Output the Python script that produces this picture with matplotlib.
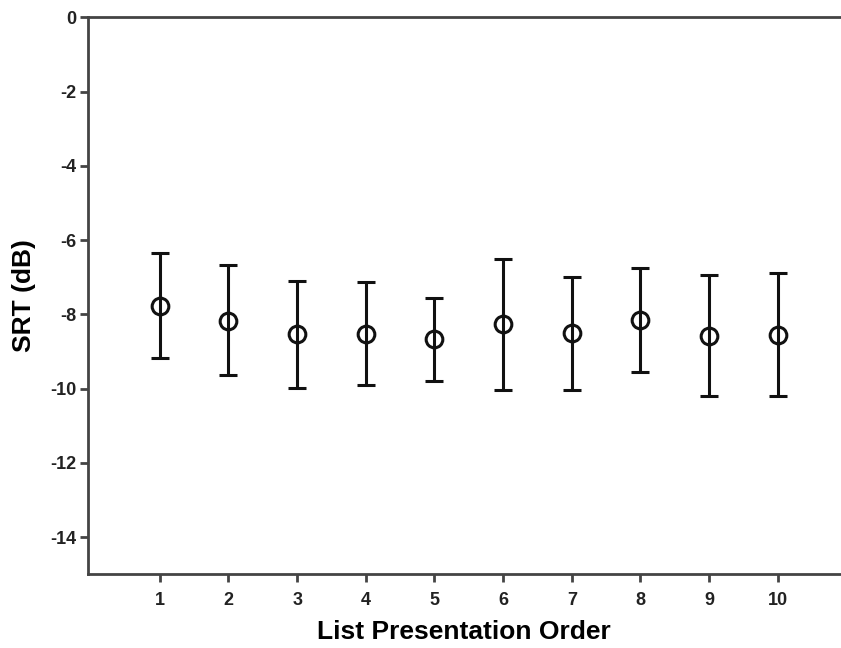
import numpy as np
import matplotlib.pyplot as plt

# SRT means and error bar ends
order = [1, 2, 3, 4, 5, 6, 7, 8, 9, 10]
srt_mean = [-7.77, -8.17, -8.54, -8.53, -8.67, -8.26, -8.51, -8.14, -8.57, -8.55]
srt_upper = [-6.34, -6.68, -7.09, -7.14, -7.55, -6.50, -6.98, -6.74, -6.95, -6.89]
srt_lower = [-9.18, -9.64, -9.97, -9.91, -9.79, -10.03, -10.04, -9.55, -10.20, -10.19]
y_ticks = [0, -2, -4, -6, -8, -10, -12, -14]

plt.rcParams['font.family'] = ['Liberation Sans', 'DejaVu Sans']
plt.rcParams['font.weight'] = 'bold'

fig = plt.figure(figsize=(8.41, 6.48), dpi=100)
ax = fig.add_axes([0.1043, 0.1137, 0.8957, 0.8596])

mean = np.array(srt_mean)
yerr = [mean - np.array(srt_lower), np.array(srt_upper) - mean]
ax.errorbar(order, mean, yerr=yerr, fmt='o', color='#111111', mfc='none',
            mec='#111111', ms=12, mew=2.2, elinewidth=2.2, capsize=6.5, capthick=2.2)

ax.set_ylim(-15, 0)
ax.set_xlim(-0.05, 10.92)
ax.set_yticks(y_ticks)
ax.set_xticks(order)
ax.set_yticklabels([str(t) for t in y_ticks])

for side in ['left', 'bottom', 'top']:
    ax.spines[side].set_color('#444444')
    ax.spines[side].set_linewidth(2)
ax.spines['right'].set_visible(False)
ax.tick_params(axis='both', length=6, width=2, color='#444444',
               labelsize=13, labelcolor='#222222')
ax.tick_params(axis='x', pad=7)
ax.tick_params(axis='y', pad=2)

ax.set_xlabel('List Presentation Order', fontsize=19, fontweight='bold', labelpad=8)
ax.set_ylabel('SRT (dB)', fontsize=19, fontweight='bold', labelpad=10)

fig.savefig('out.png', dpi=100)
